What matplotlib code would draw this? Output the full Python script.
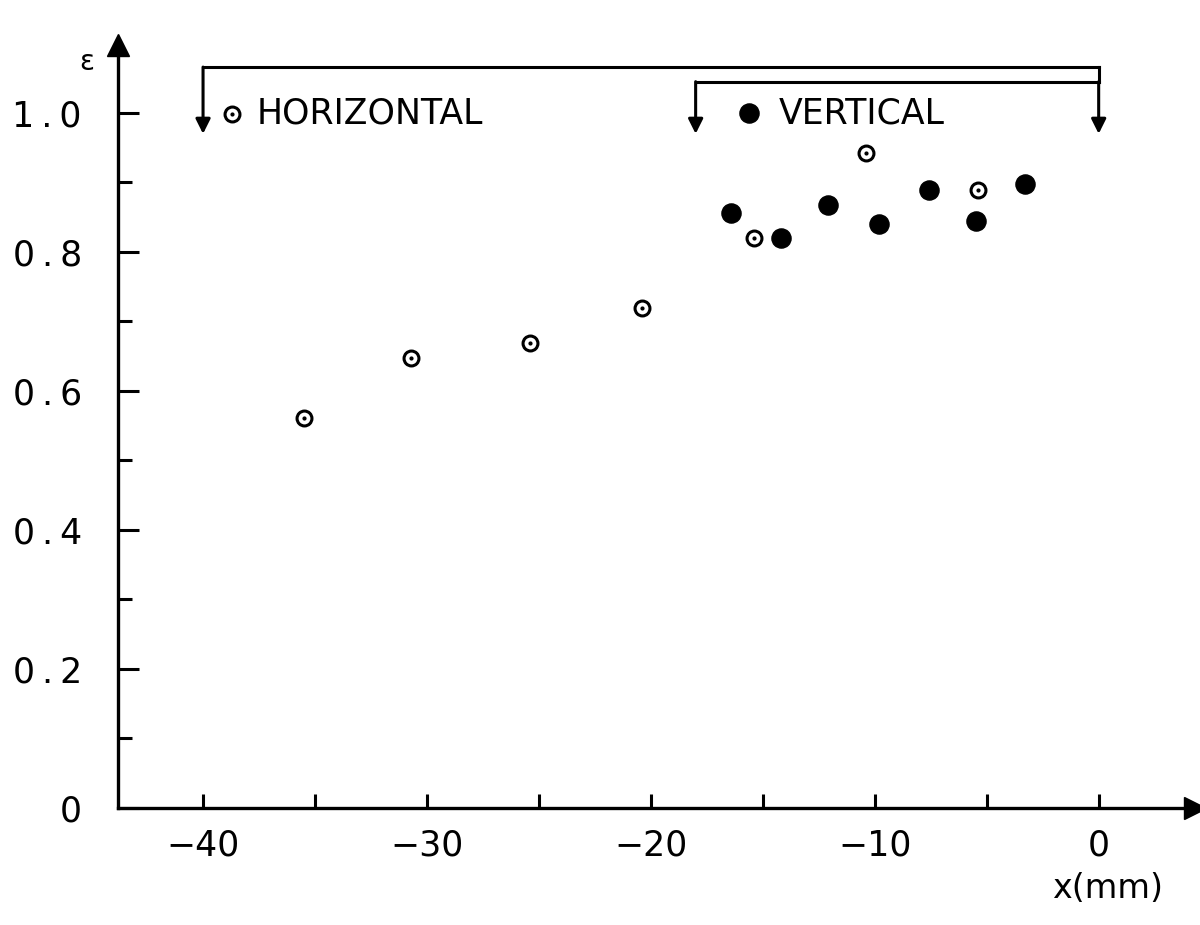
import matplotlib
matplotlib.use("Agg")
import matplotlib.pyplot as plt
import numpy as np

# horizontal scan (open circles with centre dot)
hor_x = [-35.5, -30.7, -25.4, -20.4, -15.4, -10.4, -5.4]
hor_eps = [0.561, 0.647, 0.669, 0.719, 0.820, 0.942, 0.889]

# vertical scan (filled circles)
ver_x = [-16.4, -14.2, -12.1, -9.8, -7.6, -5.5, -3.3]
ver_eps = [0.856, 0.820, 0.868, 0.840, 0.889, 0.845, 0.898]

xticks = [-40, -30, -20, -10, 0]
xtick_labels = ["\u221240", "\u221230", "\u221220", "\u221210", "0"]
yticks = [0, 0.2, 0.4, 0.6, 0.8, 1.0]
ytick_labels = ["0", "0\u2009.\u20092", "0\u2009.\u20094", "0\u2009.\u20096", "0\u2009.\u20098", "1\u2009.\u20090"]

# scan ranges shown by the brackets
hor_range = (-40, 0)
ver_range = (-18, 0)

plt.rcParams['font.family'] = ['DejaVu Sans']

fig = plt.figure(figsize=(12, 9.25), dpi=100)
ax = fig.add_axes([0.0983, 0.1265, 0.8975, 0.825])
ax.set_xlim(-43.8, 4.3)
ax.set_ylim(0, 1.098)

for s in ['top', 'right']:
    ax.spines[s].set_visible(False)
for s in ['left', 'bottom']:
    ax.spines[s].set_linewidth(2.4)

# axis arrow heads
ax.plot(1, 0, '>', color='k', ms=16, transform=ax.transAxes, clip_on=False)
ax.plot(0, 1, '^', color='k', ms=16, transform=ax.transAxes, clip_on=False)

ax.set_xticks(xticks)
ax.set_xticklabels(xtick_labels, fontsize=25)
ax.set_xticks(np.arange(-40, 1, 5), minor=True)
ax.set_yticks(yticks)
ax.set_yticklabels(ytick_labels, fontsize=25)
ax.set_yticks(np.arange(0, 1.01, 0.1), minor=True)
ax.tick_params(axis='x', which='both', direction='in', length=10, width=2.2, pad=15)
ax.tick_params(axis='y', which='major', direction='in', length=15, width=2.2, pad=26)
ax.tick_params(axis='y', which='minor', direction='in', length=10, width=2.2)

ax.scatter(hor_x, hor_eps, s=115, facecolor='white', edgecolor='black', linewidth=2.2, zorder=3)
ax.scatter(hor_x, hor_eps, s=4, color='black', zorder=4)
ax.scatter(ver_x, ver_eps, s=190, color='black', zorder=3)

# brackets with arrows
top1 = 1.066
top2 = 1.045
tip = 0.97
ax.plot([hor_range[0], hor_range[1]], [top1, top1], color='k', lw=2.2, clip_on=False)
ax.plot([ver_range[0], ver_range[1]], [top2, top2], color='k', lw=2.2, clip_on=False)
ax.plot([hor_range[1], hor_range[1]], [top1, top2], color='k', lw=2.2, clip_on=False)
for xa, yt in [(hor_range[0], top1), (ver_range[0], top2), (hor_range[1], top2)]:
    ax.annotate('', xy=(xa, tip), xytext=(xa, yt),
                arrowprops=dict(arrowstyle='-|>', color='k', lw=2.2, mutation_scale=22,
                                shrinkA=0, shrinkB=0))

# legend entries
ax.scatter([-38.7], [0.999], s=115, facecolor='white', edgecolor='black', linewidth=2.2, clip_on=False)
ax.scatter([-38.7], [0.999], s=4, color='black')
ax.text(-37.6, 0.999, "HORIZONTAL", fontsize=25, va='center', ha='left')
ax.scatter([-15.6], [1.0], s=190, color='black')
ax.text(-14.3, 0.999, "VERTICAL", fontsize=25, va='center', ha='left')

fig.text(87 / 1200, 1 - 62 / 925, "\u03b5", fontsize=20, ha='center', va='center')
fig.text(1108 / 1200, 1 - 888 / 925, "x(mm)", fontsize=24, ha='center', va='center')

fig.savefig("out.png", dpi=100)
